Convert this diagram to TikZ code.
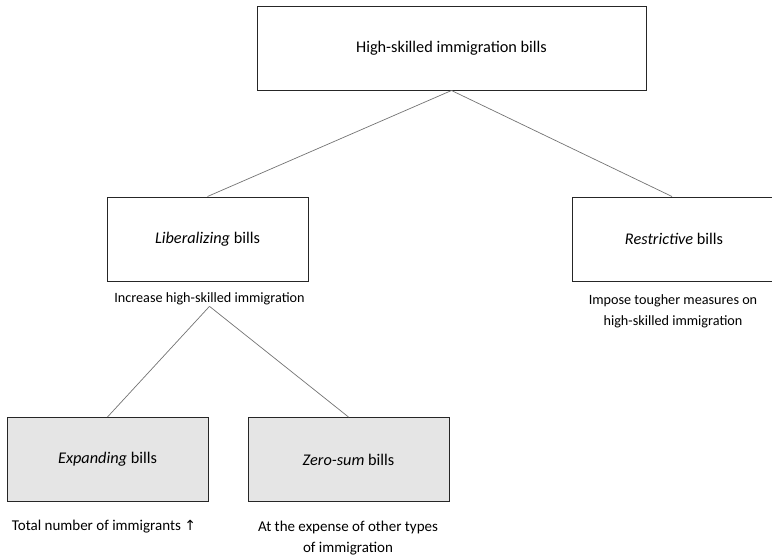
\documentclass[tikz,border=0pt]{standalone}
\usepackage{fontspec}
\setmainfont{Carlito}
\newfontfamily\symfont{DejaVu Sans}
\tikzset{
    billbox/.style={draw=black!85, line width=1pt, minimum width=201pt, minimum height=84pt, inner sep=0pt, font=\fontsize{16.3}{20}\selectfont},
    subbox/.style={billbox, fill=black!10},
    note/.style={align=center, inner sep=1pt},
    link/.style={draw=black!55, line width=0.7pt}
}
\begin{document}
\begin{tikzpicture}[x=1pt, y=-1pt, font=\fontsize{14.2}{21}\selectfont]
    \useasboundingbox (0, 0) rectangle (772, 560);
    \clip (0, 0) rectangle (772, 560);
    \node[billbox, minimum width=389pt] (top) at (451.5, 48) {High-skilled immigration bills};
    \node[billbox] (lib) at (207.5, 239) {\textit{Liberalizing} bills};
    \node[billbox, minimum width=204pt] (res) at (674, 239) {\textit{Restrictive} bills};
    \node[note] (libnote) at (209.5, 299) {Increase high-skilled immigration};
    \node[note] (resnote) at (673, 311) {Impose tougher measures on\\high-skilled immigration};
    \node[subbox] (exp) at (107.5, 459.5) {\textit{Expanding} bills};
    \node[subbox] (zs) at (348.5, 459.5) {\textit{Zero-sum} bills};
    \node[note, font=\fontsize{15}{21}\selectfont] (expnote) at (104, 527) {Total number of immigrants {\symfont\fontsize{14}{15}\selectfont ↑}};
    \node[note, font=\fontsize{15}{21}\selectfont] (zsnote) at (348, 538) {At the expense of other types\\of immigration};
    \draw[link] (top.south) -- ([xshift=-2pt]res.north);
    \draw[link] (top.south) -- (lib.north);
    \draw[link] (libnote.south) -- (exp.north);
    \draw[link] (libnote.south) -- (zs.north);
\end{tikzpicture}
\end{document}
